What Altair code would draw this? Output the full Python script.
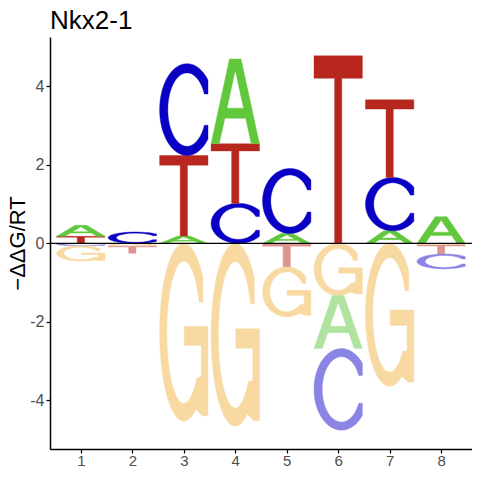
import math
import altair as alt
import pandas as pd

# ---- chart values ----
positions = [1, 2, 3, 4, 5, 6, 7, 8]
bases = ["A", "C", "G", "T"]
val_A = [0.28, 0.00, 0.19, 2.16, 0.25, -1.35, 0.32, 0.68]
val_C = [-0.06, 0.29, 2.34, 1.02, 1.66, -2.08, 1.36, -0.38]
val_G = [-0.39, -0.07, -4.53, -4.66, -1.27, -1.33, -3.64, -0.04]
val_T = [0.18, -0.18, 2.05, 1.52, -0.60, 4.78, 1.98, -0.23]
x_ticks = [1, 2, 3, 4, 5, 6, 7, 8]
y_ticks = [-4, -2, 0, 2, 4]
title_text = "Nkx2-1"
y_title = "\u2212\u0394\u0394G/RT"

pos_colors = {"A": "#61C73D", "C": "#0A00C4", "G": "#F1B343", "T": "#B8271E"}
neg_colors = {"A": "#B0E3A0", "C": "#8A84E3", "G": "#F8D9A1", "T": "#DC958F"}
LETTER_W = 0.94


# ---- letter outline templates in a unit box ----
def arc(cx, cy, rx, ry, a0, a1, n):
    pts = []
    for k in range(n + 1):
        t = math.radians(a0 + (a1 - a0) * k / n)
        pts.append((cx + rx * math.cos(t), cy + ry * math.sin(t)))
    return pts


def glyph_T():
    return [(0, 1), (1, 1), (1, 0.88), (0.575, 0.88), (0.575, 0),
            (0.425, 0), (0.425, 0.88), (0, 0.88), (0, 1)]


def glyph_A():
    outer = [(0.284, 0.3), (0.17, 0), (0, 0), (0.38, 1), (0.62, 1), (1, 0),
             (0.83, 0), (0.716, 0.3), (0.284, 0.3)]
    hole = [(0.33, 0.42), (0.67, 0.42), (0.5, 0.868), (0.33, 0.42)]
    return outer + hole + [(0.284, 0.3)]


def glyph_C():
    pts = arc(0.5, 0.5, 0.5, 0.5, 40, 320, 60)
    pts += [(0.883, 0.33)]
    ang = math.degrees(math.asin(0.17 / 0.4))
    pts += arc(0.5, 0.5, 0.35, 0.4, 360 - ang, ang, 60)
    pts += [(0.883, 0.67), pts[0]]
    xmax = max(p[0] for p in pts)
    return [(p[0] / xmax, p[1]) for p in pts]


def glyph_G():
    pts = arc(0.5, 0.5, 0.5, 0.5, 38, 300, 60)
    pts += [(0.88, 0.03), (1.0, 0.03), (1.0, 0.533), (0.51, 0.533),
            (0.51, 0.426), (0.86, 0.426), (0.86, 0.25)]
    pts += arc(0.5, 0.5, 0.35, 0.4, 320, 25, 60)
    pts += [(0.894, 0.669), pts[0]]
    return pts


glyphs = {"A": glyph_A(), "C": glyph_C(), "G": glyph_G(), "T": glyph_T()}

values = {"A": val_A, "C": val_C, "G": val_G, "T": val_T}

rows = []
lid = 0
for j, p in enumerate(positions):
    items = [(b, values[b][j]) for b in bases if values[b][j] != 0]
    pos_items = sorted([it for it in items if it[1] > 0], key=lambda t: t[1])
    neg_items = sorted([it for it in items if it[1] < 0], key=lambda t: -t[1])
    base_y = 0.0
    stacks = []
    for b, v in pos_items:
        stacks.append((b, base_y, base_y + v, pos_colors[b]))
        base_y += v
    base_y = 0.0
    for b, v in neg_items:
        stacks.append((b, base_y + v, base_y, neg_colors[b]))
        base_y += v
    for b, y0, y1, col in stacks:
        for i, (u, w) in enumerate(glyphs[b]):
            rows.append({
                "id": lid, "i": i, "base": b, "pos": p,
                "x": p - LETTER_W / 2 + u * LETTER_W,
                "y": y0 + w * (y1 - y0),
                "col": col,
            })
        lid += 1

df = pd.DataFrame(rows)

font = "Liberation Sans"

letters = alt.Chart(df).mark_line(strokeWidth=0.4).encode(
    x=alt.X("x:Q",
            scale=alt.Scale(domain=[0.4, 8.6], nice=False, zero=False),
            axis=alt.Axis(values=x_ticks, title=None, labelExpr="datum.value + ''",
                          labelPadding=0, labelFontSize=15)),
    y=alt.Y("y:Q",
            scale=alt.Scale(domain=[-5.24, 5.26], nice=False, zero=False),
            axis=alt.Axis(values=y_ticks, title=y_title, labelExpr="datum.value + ''",
                          labelPadding=2, titlePadding=0)),
    detail="id:N",
    order="i:Q",
    fill=alt.Fill("col:N", scale=None),
    stroke=alt.Stroke("col:N", scale=None),
)

zero = alt.Chart(pd.DataFrame({"y": [0]})).mark_rule(color="black", strokeWidth=1.2).encode(
    y="y:Q"
)

chart = alt.layer(letters, zero).properties(
    width=422,
    height=412,
    title=alt.TitleParams(title_text, anchor="start", frame="group", fontSize=26,
                          font=font, fontWeight="normal", color="black", offset=3),
    autosize=alt.AutoSizeParams(type="none"),
    padding={"left": 42, "top": 29, "right": 0, "bottom": 19},
).configure_axis(
    grid=False,
    domainColor="black",
    domainWidth=1.5,
    tickColor="black",
    tickWidth=1.2,
    tickSize=4,
    labelColor="#4D4D4D",
    labelFontSize=16,
    labelFont=font,
    titleFont=font,
    titleFontSize=22,
    titleFontWeight="normal",
    titleColor="black",
).configure_view(strokeWidth=0)

chart.save("out.html", embed_options={"renderer": "svg", "actions": False})
